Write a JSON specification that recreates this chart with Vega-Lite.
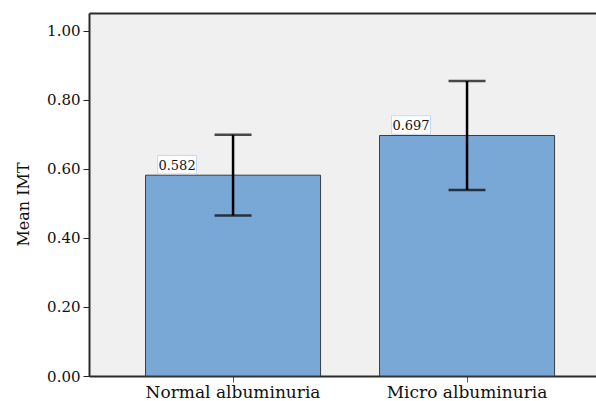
{
  "$schema": "https://vega.github.io/schema/vega-lite/v6.json",
  "autosize": "none",
  "padding": {"left": 89, "top": 13, "right": 0, "bottom": 25},
  "width": 507,
  "height": 363,
  "background": "white",
  "config": {
    "view": {"fill": "#f0f0f0", "stroke": null},
    "font": "DejaVu Serif"
  },
  "data": {
    "values": [
      {"group": "Normal albuminuria", "mean": 0.582, "lo": 0.465, "hi": 0.699, "label": "0.582"},
      {"group": "Micro albuminuria", "mean": 0.697, "lo": 0.539, "hi": 0.855, "label": "0.697"}
    ]
  },
  "encoding": {
    "x": {
      "field": "group",
      "type": "nominal",
      "sort": null,
      "scale": {"paddingInner": 0.252, "paddingOuter": 0.2094, "align": 0.577},
      "axis": null
    }
  },
  "layer": [
    {
      "mark": {"type": "bar", "color": "#79a7d6", "stroke": "#3c3c3c", "strokeWidth": 1},
      "encoding": {
        "y": {
          "field": "mean",
          "type": "quantitative",
          "scale": {"domain": [0, 1.052], "nice": false, "zero": true},
          "axis": {
            "title": "Mean IMT",
            "titleFont": "DejaVu Serif",
            "titleFontSize": 16,
            "titleFontWeight": "normal",
            "titleColor": "#111",
            "titleAngle": -90,
            "titleAlign": "center",
            "titleBaseline": "alphabetic",
            "titleX": -61,
            "titleY": 191,
            "values": [0, 0.2, 0.4, 0.6, 0.8, 1.0],
            "format": ".2f",
            "grid": false,
            "labelFont": "DejaVu Serif",
            "labelFontSize": 15,
            "labelColor": "#111",
            "labelPadding": 3,
            "domainColor": "#2a2a2a",
            "domainWidth": 2,
            "tickColor": "#222",
            "tickSize": 6,
            "tickWidth": 1
          }
        }
      }
    },
    {
      "mark": {"type": "rule", "color": "black", "strokeWidth": 2.5},
      "encoding": {
        "y": {"field": "lo", "type": "quantitative"},
        "y2": {"field": "hi"}
      }
    },
    {
      "mark": {"type": "tick", "color": "black", "thickness": 2.5, "size": 37, "orient": "horizontal"},
      "encoding": {"y": {"field": "lo", "type": "quantitative"}}
    },
    {
      "mark": {"type": "tick", "color": "black", "thickness": 2.5, "size": 37, "orient": "horizontal"},
      "encoding": {"y": {"field": "hi", "type": "quantitative"}}
    },
    {
      "mark": {
        "type": "point",
        "shape": "M-2.1,-1L2.1,-1L2.1,1L-2.1,1Z",
        "size": 342,
        "filled": false,
        "fill": "white",
        "fillOpacity": 1,
        "opacity": 1,
        "stroke": "#c6d8ec",
        "strokeWidth": 1,
        "xOffset": -56,
        "yOffset": -10.5
      },
      "encoding": {
        "x": {
          "field": "group",
          "type": "nominal",
          "sort": null,
          "axis": {
            "orient": "top",
            "title": null,
            "labels": false,
            "ticks": false,
            "domainColor": "#2a2a2a",
            "domainWidth": 2
          }
        },
        "y": {"field": "mean", "type": "quantitative"}
      }
    },
    {
      "mark": {
        "type": "text",
        "font": "DejaVu Serif",
        "fontSize": 13,
        "color": "#111",
        "align": "center",
        "baseline": "alphabetic",
        "dx": -56,
        "dy": -5.5
      },
      "encoding": {
        "x": {
          "field": "group",
          "type": "nominal",
          "sort": null,
          "axis": {
            "title": null,
            "orient": "bottom",
            "labelAngle": 0,
            "labelFont": "DejaVu Serif",
            "labelFontSize": 17,
            "labelColor": "#111",
            "labelPadding": 2,
            "domainColor": "#2a2a2a",
            "domainWidth": 2,
            "tickColor": "#555",
            "tickSize": 6,
            "tickWidth": 1
          }
        },
        "y": {"field": "mean", "type": "quantitative"},
        "text": {"field": "label"}
      }
    }
  ]
}
